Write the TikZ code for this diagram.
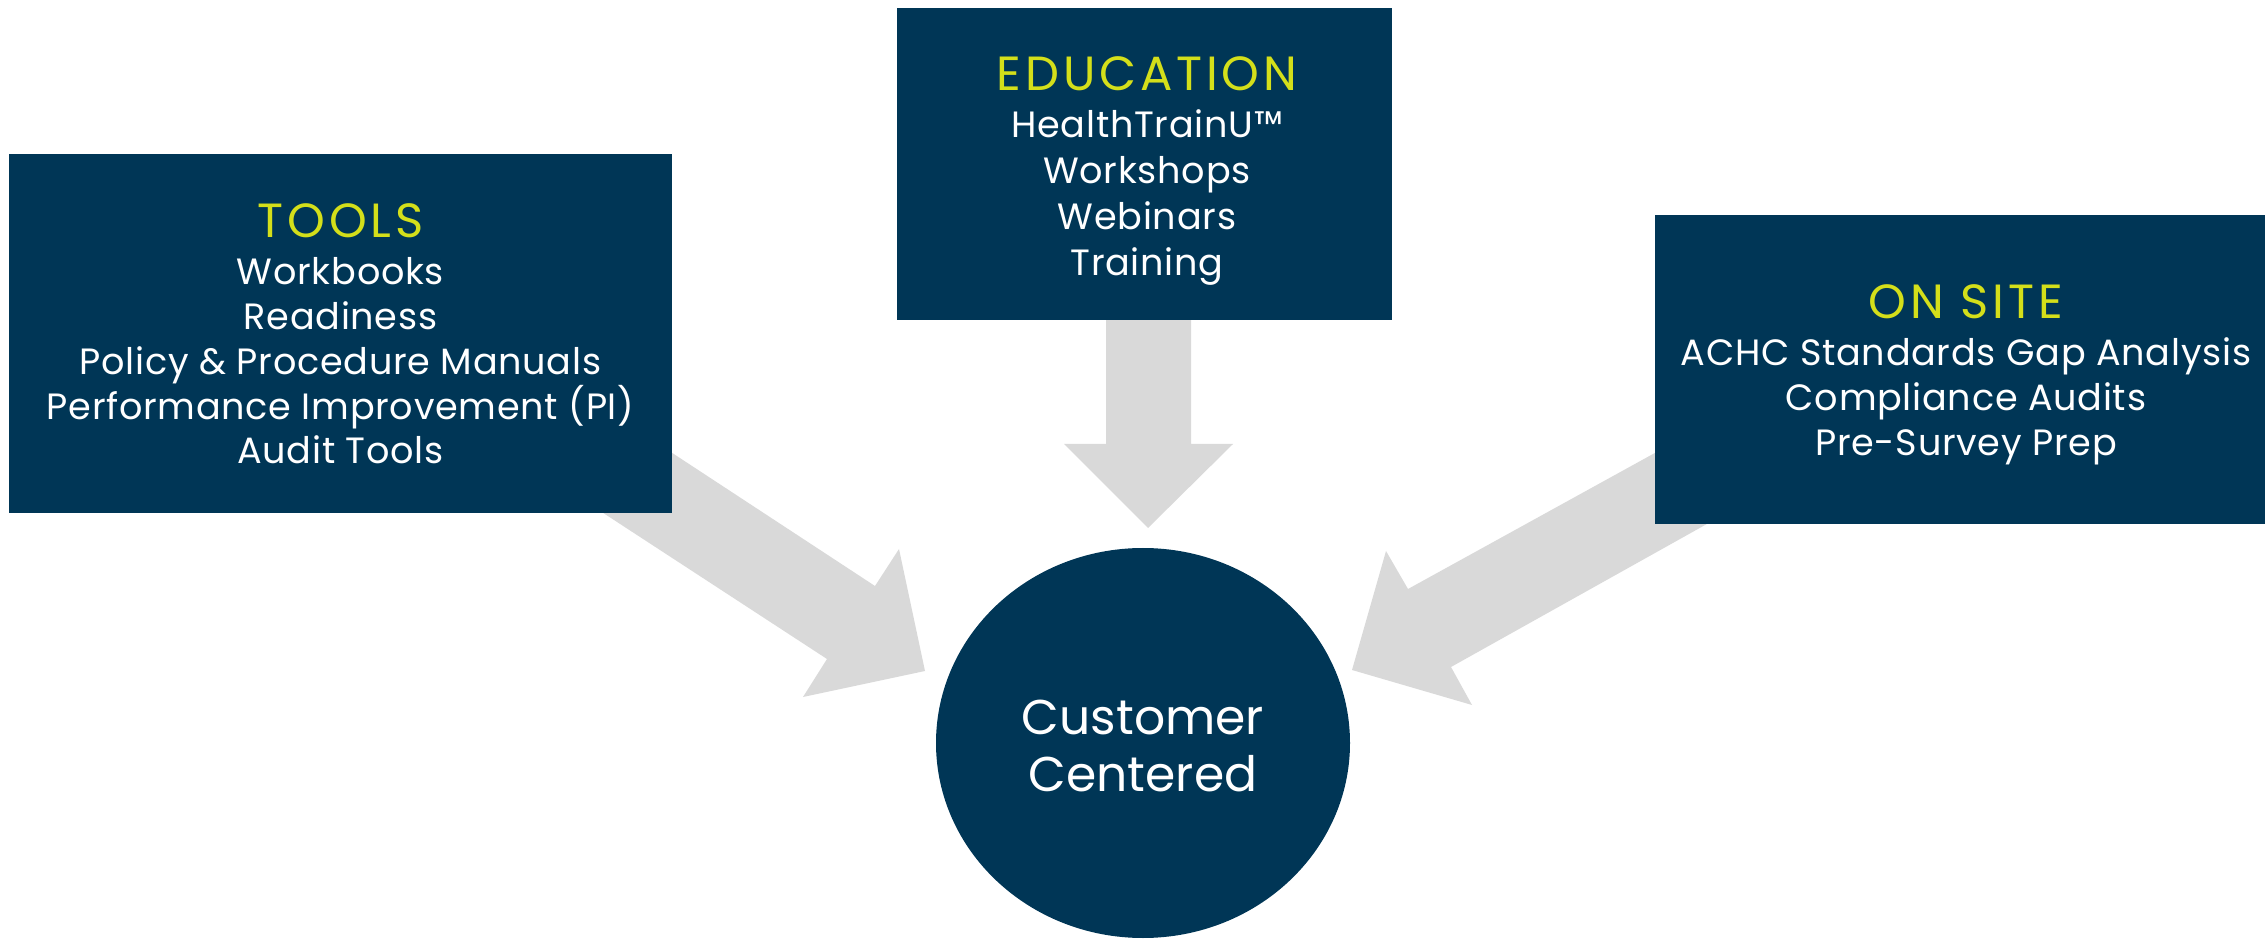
\documentclass[tikz,border=0pt]{standalone}
\usepackage{fontspec}
\setmainfont{Poppins}
\newfontfamily\titlefont[LetterSpace=8]{Poppins}
\newfontfamily\bodyfont[LetterSpace=2]{Poppins}
\usetikzlibrary{shapes.geometric}
\definecolor{navy}{HTML}{003656}
\definecolor{lime}{HTML}{D4DF1A}
\definecolor{arrowgray}{HTML}{D9D9D9}
\begin{document}
\begin{tikzpicture}[x=0.5pt,y=-0.5pt,
  box/.style={rectangle, fill=navy, draw=none, inner sep=0pt},
  blockarrow/.style={fill=arrowgray, draw=none},
  titletext/.style={text=lime, inner sep=0pt, anchor=base, font=\titlefont\fontsize{24}{28}\selectfont},
  bodytext/.style={text=white, inner sep=0pt, anchor=base, font=\bodyfont\fontsize{18.3}{22}\selectfont},
  centertext/.style={text=white, inner sep=0pt, anchor=base, font=\fontsize{24.4}{28}\selectfont}]
\useasboundingbox (0,0) rectangle (2265,940);

% block arrows (tails hidden behind the boxes)
\fill[blockarrow] (500,340) -- (875,586) -- (899,549) -- (925,671) -- (803,697) -- (827,659) -- (450,413) -- cycle;
\fill[blockarrow] (1106,300) -- (1106,444) -- (1064,444) -- (1148,528) -- (1233,444) -- (1191,444) -- (1191,300) -- cycle;
\fill[blockarrow] (1800,373) -- (1408,589) -- (1386,551) -- (1352,670) -- (1472,705) -- (1451,667) -- (1850,444) -- cycle;

% boxes
\node[box, minimum width=331.5pt, minimum height=179.5pt] (tools) at (340.5,333.5) {};
\node[box, minimum width=247.5pt, minimum height=156pt] (education) at (1144.5,164) {};
\node[box, minimum width=311pt, minimum height=154.5pt] (onsite) at (1966,369.5) {};
\node[ellipse, fill=navy, draw=none, inner sep=0pt, minimum width=207pt, minimum height=195pt] (customer) at (1143,743) {};

% texts
\node[titletext] (toolstitle) at (340.5,238) {TOOLS};
\foreach \t [count=\i] in {Workbooks, Readiness, Policy \& Procedure Manuals, Performance Improvement (PI), Audit Tools}
  \node[bodytext] (tools\i) at (340.5,{285+(\i-1)*44.75}) {\t};

\node[titletext] (edutitle) at (1147,91) {EDUCATION};
\foreach \t [count=\i] in {HealthTrainU™, Workshops, Webinars, Training}
  \node[bodytext] (edu\i) at (1147,{138+(\i-1)*45.7}) {\t};

\node[titletext] (onsitetitle) at (1966,319) {ON SITE};
\foreach \t [count=\i] in {ACHC Standards Gap Analysis, Compliance Audits, Pre-Survey Prep}
  \node[bodytext] (onsite\i) at (1966,{366+(\i-1)*45}) {\t};

\node[centertext] (cust1) at (1143,734) {Customer};
\node[centertext] (cust2) at (1143,791) {Centered};
\end{tikzpicture}
\end{document}
